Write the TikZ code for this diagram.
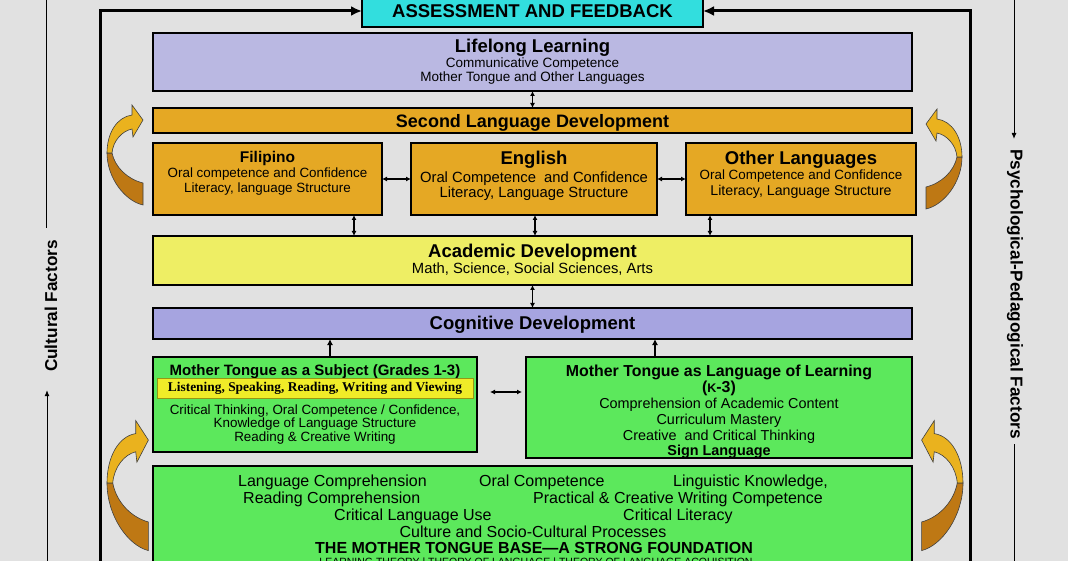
\documentclass[tikz,border=0pt]{standalone}
\usepackage{fontspec}
\setmainfont{Liberation Sans}
\newfontfamily\tnr{Liberation Serif}
\usetikzlibrary{arrows.meta}
\definecolor{bg}{RGB}{225,225,225}
\definecolor{cyanbox}{RGB}{50,222,222}
\definecolor{lav}{RGB}{186,184,226}
\definecolor{lavdark}{RGB}{166,164,224}
\definecolor{orng}{RGB}{229,168,36}
\definecolor{yel}{RGB}{238,238,100}
\definecolor{grn}{RGB}{92,232,92}
\definecolor{hl}{RGB}{240,236,40}
\definecolor{olive}{RGB}{150,150,20}
\definecolor{goldL}{RGB}{234,178,30}
\definecolor{goldD}{RGB}{190,120,20}
\newcommand{\fsz}[1]{\fontsize{#1pt}{#1pt}\selectfont}
\newcommand{\curlyarrow}[4]{%
  \begin{scope}[shift={(#1,#2)}, xscale=#3, yscale=#4]
    \filldraw[fill=goldD, draw=black!75, line width=0.6pt]
      (0,0) .. controls (0,25) and (18,48) .. (36,52) -- (36,30)
      .. controls (20,26) and (8,14) .. (5,0) -- cycle;
    \filldraw[fill=goldL, draw=black!75, line width=0.6pt]
      (0,0) .. controls (0,-20) and (10,-36) .. (25,-38) -- (25,-48) -- (36,-33)
      -- (26,-16) -- (25,-24) .. controls (15,-22) and (6,-12) .. (5,0) -- cycle;
  \end{scope}}
\begin{document}
\begin{tikzpicture}[x=1pt,y=-1pt,
  box/.style={draw=black, line width=1.5pt, inner sep=0pt, outer sep=0pt, anchor=north west},
  lbl/.style={anchor=base, inner sep=0pt, text=black},
  lblw/.style={anchor=base west, inner sep=0pt, text=black},
  dbl/.style={line width=1.3pt, {Latex[length=5pt,width=5pt]}-{Latex[length=5pt,width=5pt]}},
  uparr/.style={line width=2pt, -{Latex[length=6pt,width=6pt]}},
  framearr/.style={line width=3pt, -{Latex[length=11pt,width=10pt]}},
  sidetxt/.style={inner sep=0pt, font=\bfseries\fsz{17.2}},
  thinline/.style={line width=1pt},
]
\useasboundingbox (0,0) rectangle (1068,561);
\fill[bg] (0,0) rectangle (1068,561);

% outer side factors
\coordinate (ltop) at (46,-2);
\coordinate (lbot) at (47,600);
\node[sidetxt, rotate=90] (cult) at (51,306) {Cultural Factors};
\draw[thinline, shorten >=12pt] (ltop) -- (cult.east -| ltop);
\draw[thinline, -{Latex[length=6pt,width=5pt]}, shorten >=18pt] (lbot) -- (cult.west -| lbot);

\coordinate (rtop) at (1014,-2);
\coordinate (rbot) at (1014,600);
\node[sidetxt, rotate=-90] (psy) at (1015,294) {Psychological-Pedagogical Factors};
\draw[thinline, -{Latex[length=6pt,width=5pt]}, shorten >=10pt] (rtop) -- (psy.west -| rtop);
\draw[thinline, shorten <=5pt] (psy.east -| rbot) -- (rbot);

% assessment box and frame
\node[box, fill=cyanbox, minimum width=341pt, minimum height=32pt] (assess) at (362,-5) {};
\node[lbl, font=\bfseries\fsz{18.5}] (assessT) at (532.5,18) {ASSESSMENT AND FEEDBACK};
\coordinate (fl) at (100,600);
\coordinate (fr) at (970,600);
\draw[framearr] (fl) |- (assess.west);
\draw[framearr] (fr) |- (assess.east);

% curled arrows
\curlyarrow{107}{153}{1}{1}
\curlyarrow{962}{157}{-1}{1}
\curlyarrow{107}{483}{1.15}{1.3}
\curlyarrow{963}{483}{-1.15}{1.3}

% Lifelong learning
\node[box, fill=lav, minimum width=759pt, minimum height=58pt] (life) at (153,33) {};
\node[lbl, font=\bfseries\fsz{18.5}] (lifeT) at (532.5,53) {Lifelong Learning};
\node[lbl, font=\fsz{13.5}] (lifeA) at (532.5,68) {Communicative Competence};
\node[lbl, font=\fsz{13.5}] (lifeB) at (532.5,82) {Mother Tongue and Other Languages};

% Second language development
\node[box, fill=orng, minimum width=759pt, minimum height=25pt] (sld) at (153,108) {};
\node[lbl, font=\bfseries\fsz{18}] (sldT) at (532.5,128) {Second Language Development};

\node[box, fill=orng, minimum width=229pt, minimum height=72pt] (fil) at (153,143) {};
\node[lbl, font=\bfseries\fsz{15.5}] (filT) at (267.5,163) {Filipino};
\node[lbl, font=\fsz{13.4}] (filA) at (267.5,178) {Oral competence and Confidence};
\node[lbl, font=\fsz{13.4}] (filB) at (267.5,193) {Literacy, language Structure};

\node[box, fill=orng, minimum width=246pt, minimum height=72pt] (eng) at (411,143) {};
\node[lbl, font=\bfseries\fsz{18.5}] (engT) at (534,165) {English};
\node[lbl, font=\fsz{14.8}] (engA) at (534,183) {Oral Competence\ \ and Confidence};
\node[lbl, font=\fsz{14.8}] (engB) at (534,198) {Literacy, Language Structure};

\node[box, fill=orng, minimum width=230pt, minimum height=72pt] (oth) at (686,143) {};
\node[lbl, font=\bfseries\fsz{18.5}] (othT) at (801,165) {Other Languages};
\node[lbl, font=\fsz{13.4}] (othA) at (801,180) {Oral Competence and Confidence};
\node[lbl, font=\fsz{14.2}] (othB) at (801,196) {Literacy, Language Structure};

% Academic development
\node[box, fill=yel, minimum width=759pt, minimum height=49pt] (acad) at (153,236) {};
\node[lbl, font=\bfseries\fsz{18.5}] (acadT) at (532.5,258) {Academic Development};
\node[lbl, font=\fsz{14.8}] (acadA) at (532.5,274) {Math, Science, Social Sciences, Arts};

% Cognitive development
\node[box, fill=lavdark, minimum width=759pt, minimum height=31pt] (cog) at (153,308) {};
\node[lbl, font=\bfseries\fsz{18.5}] (cogT) at (532.5,329) {Cognitive Development};

% Mother tongue as subject
\node[box, fill=grn, minimum width=324pt, minimum height=95pt] (mts) at (153,357) {};
\node[lbl, font=\bfseries\fsz{15}] (mtsT) at (315,375) {Mother Tongue as a Subject (Grades 1-3)};
\node[box, fill=hl, draw=olive, line width=1pt, minimum width=316pt, minimum height=20pt] (hlbar) at (157,378) {};
\node[lbl, font=\tnr\bfseries\fsz{13.4}] (hlT) at (315,391) {Listening, Speaking, Reading, Writing and Viewing};
\node[lbl, font=\fsz{13.4}] (mtsA) at (315,414) {Critical Thinking, Oral Competence / Confidence,};
\node[lbl, font=\fsz{13.4}] (mtsB) at (315,427) {Knowledge of Language Structure};
\node[lbl, font=\fsz{13.4}] (mtsC) at (315,441) {Reading \& Creative Writing};

% Mother tongue as language of learning
\node[box, fill=grn, minimum width=386pt, minimum height=101pt] (mtl) at (526,357) {};
\node[lbl, font=\bfseries\fsz{15.9}] (mtlT) at (719,376) {Mother Tongue as Language of Learning};
\node[lbl, font=\bfseries\fsz{15.9}] (mtlK) at (719,392) {({\fsz{12.5}K}-3)};
\node[lbl, font=\fsz{14.4}] (mtlA) at (719,408) {Comprehension of Academic Content};
\node[lbl, font=\fsz{14.4}] (mtlB) at (719,424) {Curriculum Mastery};
\node[lbl, font=\fsz{14.4}] (mtlC) at (719,440) {Creative\ \ and Critical Thinking};
\node[lbl, font=\bfseries\fsz{14.4}] (mtlD) at (719,455) {Sign Language};

% Mother tongue base
\node[box, fill=grn, minimum width=759pt, minimum height=150pt] (base) at (153,466) {};
\node[lblw, font=\fsz{16}] (b1a) at (238,486) {Language Comprehension};
\node[lblw, font=\fsz{16}] (b1b) at (479,486) {Oral Competence};
\node[lblw, font=\fsz{16}] (b1c) at (673,486) {Linguistic Knowledge,};
\node[lblw, font=\fsz{16}] (b2a) at (243,503) {Reading Comprehension};
\node[lblw, font=\fsz{16}] (b2b) at (533,503) {Practical \& Creative Writing Competence};
\node[lblw, font=\fsz{16}] (b3a) at (334,520) {Critical Language Use};
\node[lblw, font=\fsz{16}] (b3b) at (623,520) {Critical Literacy};
\node[lbl, font=\fsz{16}] (b4) at (533,537) {Culture and Socio-Cultural Processes};
\node[lbl, font=\bfseries\fsz{16}] (b5) at (534,553) {THE MOTHER TONGUE BASE---A STRONG FOUNDATION};
\node[lbl, font=\fsz{10.5}] (b6) at (536,565) {LEARNING THEORY | THEORY OF LANGUAGE | THEORY OF LANGUAGE ACQUISITION};

% connectors
\coordinate (c1) at (354,0);
\coordinate (c2) at (535,0);
\coordinate (c3) at (710,0);
\coordinate (c4) at (330,0);
\coordinate (c5) at (655,0);
\draw[dbl] (life.south) -- (sld.north);
\draw[dbl] (fil.east) -- (eng.west);
\draw[dbl] (eng.east) -- (oth.west);
\draw[dbl] (fil.south -| c1) -- (acad.north -| c1);
\draw[dbl] (eng.south -| c2) -- (acad.north -| c2);
\draw[dbl] (oth.south -| c3) -- (acad.north -| c3);
\draw[dbl] (acad.south) -- (cog.north);
\draw[uparr] (mts.north -| c4) -- (cog.south -| c4);
\draw[uparr] (mtl.north -| c5) -- (cog.south -| c5);
\coordinate (h1) at (490,392);
\coordinate (h2) at (522,392);
\draw[dbl] (h1) -- (h2);
\end{tikzpicture}
\end{document}
